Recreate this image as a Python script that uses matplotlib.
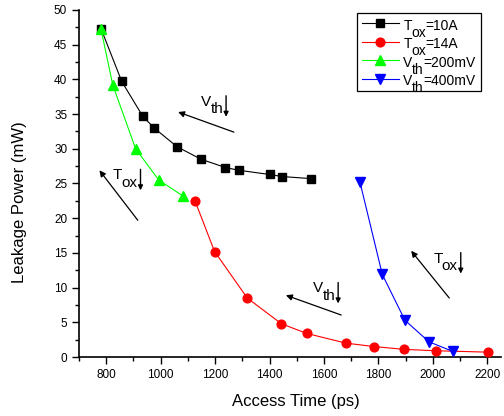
import matplotlib
matplotlib.use("Agg")
import matplotlib.pyplot as plt
from matplotlib.transforms import IdentityTransform
from matplotlib.patches import FancyArrowPatch

plt.rcParams['font.family'] = ['Liberation Sans', 'DejaVu Sans']

# Data
tox10_x = [782, 857, 934, 976, 1060, 1148, 1238, 1288, 1400, 1447, 1553]
tox10_y = [47.2, 39.7, 34.7, 33.0, 30.3, 28.5, 27.3, 26.9, 26.3, 26.0, 25.7]
tox14_x = [1126, 1198, 1318, 1443, 1536, 1680, 1785, 1894, 2011, 2201]
tox14_y = [22.5, 15.2, 8.5, 4.8, 3.4, 2.0, 1.5, 1.1, 0.9, 0.7]
vth200_x = [781, 824, 908, 993, 1082]
vth200_y = [47.2, 39.2, 30.0, 25.5, 23.2]
vth400_x = [1732, 1814, 1897, 1985, 2073]
vth400_y = [25.2, 11.9, 5.3, 2.2, 0.8]

x_ticks = [800, 1000, 1200, 1400, 1600, 1800, 2000, 2200]
y_ticks = [0, 5, 10, 15, 20, 25, 30, 35, 40, 45, 50]

# legend labels: (main, subscript, rest)
legend_parts = [('T', 'ox', '=10A'), ('T', 'ox', '=14A'),
                ('V', 'th', '=200mV'), ('V', 'th', '=400mV')]

fig = plt.figure(figsize=(5.04, 4.16), dpi=100)
ax = fig.add_axes([79/504, 59/416, 422/504, 347/416])

lw = 0.8
ax.plot(tox10_x, tox10_y, '-s', color='black', mfc='black', mec='black', ms=5.2, lw=lw,
        label='Tox=10A', zorder=3)
ax.plot(tox14_x, tox14_y, '-o', color='red', mfc='red', mec='red', ms=6.3, lw=lw,
        label='Tox=14A', zorder=3)
ax.plot(vth200_x, vth200_y, '-^', color='#00ff00', mfc='#00ff00', mec='#00ff00', ms=7.2, lw=lw,
        label='Vth=200mV', zorder=4)
ax.plot(vth400_x, vth400_y, '-v', color='blue', mfc='blue', mec='blue', ms=7.2, lw=lw,
        label='Vth=400mV', zorder=3)

ax.set_xlim(700, 2250)
ax.set_ylim(0, 50)
ax.set_xticks(x_ticks)
ax.set_yticks(y_ticks)
ax.set_xticks(range(700, 2300, 100), minor=True)
ax.set_yticks([i * 2.5 for i in range(21)], minor=True)
ax.tick_params(axis='both', which='major', direction='out', length=5, width=1, labelsize=8.5)
ax.tick_params(axis='both', which='minor', direction='out', length=3, width=1)
ax.spines['top'].set_visible(False)
ax.spines['right'].set_visible(False)
ax.spines['left'].set_linewidth(1.2)
ax.spines['bottom'].set_linewidth(1.2)

ax.set_xlabel('Access Time (ps)', fontsize=12, va='center', ha='center')
ax.set_ylabel('Leakage Power (mW)', fontsize=12, va='center', ha='center')
ax.xaxis.set_label_coords(0.514, -0.129)
ax.yaxis.set_label_coords(-0.14, 0.447)

# Direction arrows
arrows = [(1269, 32.4, 1064, 35.3), (916, 19.7, 775, 26.9),
          (1663, 6.05, 1460, 8.9), (2060, 8.5, 1920, 15.3)]
for x0, y0, x1, y1 in arrows:
    ax.annotate('', xy=(x1, y1), xytext=(x0, y0),
                arrowprops=dict(arrowstyle='-|>', color='black', lw=0.9,
                                mutation_scale=9, shrinkA=0, shrinkB=0))

leg = ax.legend(loc='upper right', bbox_to_anchor=(481, 416 - 12.5),
                bbox_transform=IdentityTransform(), fontsize=10, frameon=True,
                fancybox=False, edgecolor='black', framealpha=1,
                handlelength=2.7, handletextpad=0.3, labelspacing=0.32,
                borderpad=0.33, borderaxespad=0)
leg.get_frame().set_linewidth(0.9)

fig.canvas.draw()
renderer = fig.canvas.get_renderer()
ident = IdentityTransform()


def place_sub(x, y, main, sub, rest, fs):
    """Draw main text, lowered full-size subscript, then rest (baseline y). Returns end x."""
    px = fs * 100 / 72.0
    low = 0.5 * px
    t = fig.text(x, y, main, fontsize=fs, ha='left', va='baseline', transform=ident, zorder=10)
    x = t.get_window_extent(renderer).x1 - 0.05 * px
    t = fig.text(x, y - low, sub, fontsize=fs, ha='left', va='baseline', transform=ident, zorder=10)
    x = t.get_window_extent(renderer).x1
    if rest:
        t = fig.text(x, y, rest, fontsize=fs, ha='left', va='baseline', transform=ident, zorder=10)
        x = t.get_window_extent(renderer).x1
    return x


cap = 0.716 * 10 * 100 / 72.0
for txt, (m, s, r) in zip(leg.get_texts(), legend_parts):
    bb = txt.get_window_extent(renderer)
    txt.set_visible(False)
    yc = (bb.y0 + bb.y1) / 2 - 1
    place_sub(bb.x0, yc - cap / 2, m, s, r, 10)

# Labels with down arrows (anchor = left/baseline of main letter, data coords)
notes = [('V', 'th', 1148, 36.2), ('T', 'ox', 824.5, 25.6),
         ('V', 'th', 1559.6, 9.3), ('T', 'ox', 2000.8, 13.6)]
for m, s, xd, yd in notes:
    px, py = ax.transData.transform((xd, yd))
    xe = place_sub(px, py, m, s, '', 11)
    xa = xe + 3
    fig.add_artist(FancyArrowPatch(
        (xa, py + 10), (xa, py - 11), transform=ident, arrowstyle='-|>',
        mutation_scale=7, lw=1.0, color='black', shrinkA=0, shrinkB=0))

fig.savefig('out.png', dpi=100)
